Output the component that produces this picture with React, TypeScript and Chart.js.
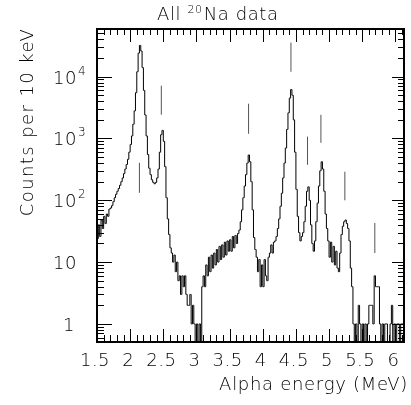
import { useEffect, useRef } from 'react';
import { Chart, registerables } from 'chart.js';

Chart.register(...registerables);

// Histogram: counts per bin, bins of 0.02 MeV starting at 1.50 MeV
const binStart = 1.5;
const binWidth = 0.02;
const counts = [
  24, 40, 26, 48, 35, 55, 42, 60, 55, 72,
  75, 82, 95, 110, 125, 140, 155, 175, 200, 230,
  270, 320, 380, 460, 600, 800, 1100, 1700, 2800, 5500,
  12000, 24000, 32000, 26000, 14000, 6000, 2400, 1100, 550, 330,
  260, 215, 195, 185, 195, 230, 320, 600, 1150, 1350,
  900, 350, 110, 50, 28, 17, 14, 10, 13, 7,
  10, 5, 6, 3, 6, 4, 6, 3, 2, 2,
  3, 1, 2, 1, 0, 1, 0, 1, 0, 4,
  6, 4, 9, 6, 12, 7, 13, 8, 14, 9,
  16, 10, 18, 11, 19, 12, 21, 13, 22, 15,
  23, 15, 26, 17, 27, 20, 29, 33, 45, 70,
  110, 170, 260, 400, 540, 420, 200, 70, 25, 16,
  12, 7, 11, 4, 9, 4, 11, 6, 5, 12,
  14, 19, 14, 21, 22, 26, 35, 50, 80, 130,
  230, 400, 700, 1400, 2600, 4500, 6200, 5000, 2000, 600,
  150, 55, 30, 22, 26, 30, 45, 80, 140, 165,
  100, 40, 20, 15, 22, 45, 90, 170, 300, 420,
  320, 140, 60, 35, 22, 12, 21, 10, 18, 9,
  15, 8, 7, 14, 28, 38, 45, 48, 42, 35,
  22, 8, 4, 1, 0, 1, 0, 2, 1, 0,
  1, 0, 1, 0, 1, 2, 2, 2, 1, 6,
  4, 4, 4, 1, 0, 1, 0, 1, 1, 0,
  0, 1, 2, 0, 1, 0, 1, 1, 0, 1,
  1, 1,
];

// Peak marker lines
const markerEnergy = [2.14, 2.47, 3.786, 4.425, 4.675, 4.877, 5.238, 5.69];
const markerLow = [132, 2420, 1190, 12000, 375, 850, 100, 14];
const markerHigh = [404, 7140, 3650, 35500, 1070, 2410, 290, 43];

// Axes
const xMin = 1.5;
const xMax = 6.13;
const yMin = 0.51;
const yMax = 59000;
const xTickValues = [1.5, 2, 2.5, 3, 3.5, 4, 4.5, 5, 5.5, 6];
const xTickLabels = ['1.5', '2', '2.5', '3', '3.5', '4', '4.5', '5', '5.5', '6'];
const yDecades = [0, 1, 2, 3, 4];

const titleParts = ['All ', '20', 'Na data'];
const xTitle = 'Alpha energy (MeV)';
const yTitle = 'Counts per 10 keV';

const FONT = '"DejaVu Sans", sans-serif';
const W = '200';

const framePlugin = {
  id: 'rootFrame',
  afterDatasetsDraw(chart: any) {
    const ctx: any = chart.ctx;
    const { left, right, top, bottom } = chart.chartArea;
    const xs = chart.scales.x;
    const ys = chart.scales.y;
    ctx.save();
    ctx.strokeStyle = '#000';
    ctx.fillStyle = '#000';

    ctx.lineWidth = 1;
    ctx.beginPath();
    for (let k = 15; k <= 61; k++) {
      const v = k / 10;
      if (v > xMax) break;
      const px = Math.round(xs.getPixelForValue(v)) + 0.5;
      const major = k % 5 === 0;
      const lenB = major ? 13 : 7;
      const lenT = major ? 13 : 6;
      ctx.moveTo(px, bottom);
      ctx.lineTo(px, bottom - lenB);
      ctx.moveTo(px, top);
      ctx.lineTo(px, top + lenT);
    }
    for (let d = -1; d <= 4; d++) {
      for (let m = 1; m <= 9; m++) {
        const v = m * Math.pow(10, d);
        if (v < yMin || v > yMax) continue;
        const py = Math.round(ys.getPixelForValue(v)) + 0.5;
        const major = m === 1;
        const lenL = major ? 15 : 7;
        const lenR = major ? 12 : 6;
        ctx.moveTo(left, py);
        ctx.lineTo(left + lenL, py);
        ctx.moveTo(right, py);
        ctx.lineTo(right - lenR, py);
      }
    }
    ctx.stroke();

    ctx.lineWidth = 2;
    ctx.strokeRect(left, top, right - left, bottom - top);

    // x tick labels
    ctx.font = `${W} 18px ${FONT}`;
    ctx.letterSpacing = '0.5px';
    ctx.textAlign = 'center';
    ctx.textBaseline = 'alphabetic';
    xTickValues.forEach((v, i) => {
      const px = xs.getPixelForValue(v) - 2;
      ctx.fillText(xTickLabels[i], px, 366);
    });

    // y tick labels
    ctx.letterSpacing = '0.5px';
    yDecades.forEach((d) => {
      const py = ys.getPixelForValue(Math.pow(10, d));
      ctx.textAlign = 'right';
      ctx.font = `${W} 18px ${FONT}`;
      if (d === 0) {
        ctx.fillText('1', 75, py + 7);
      } else {
        ctx.fillText('10', 77, py + 7);
        if (d > 1) {
          ctx.textAlign = 'left';
          ctx.font = `${W} 12px ${FONT}`;
          ctx.fillText(String(d), 78, py - 2);
        }
      }
    });

    // title
    ctx.textAlign = 'left';
    ctx.letterSpacing = '0.6px';
    let tx = 157;
    ctx.font = `${W} 18px ${FONT}`;
    ctx.fillText(titleParts[0], tx, 20);
    tx += ctx.measureText(titleParts[0]).width;
    ctx.font = `${W} 11px ${FONT}`;
    ctx.fillText(titleParts[1], tx, 13);
    tx += ctx.measureText(titleParts[1]).width + 1;
    ctx.font = `${W} 18px ${FONT}`;
    ctx.fillText(titleParts[2], tx, 20);

    // x title
    ctx.letterSpacing = '0.7px';
    ctx.textAlign = 'right';
    ctx.fillText(xTitle, 408, 390);

    // y title
    ctx.save();
    ctx.letterSpacing = '1.4px';
    ctx.translate(33, 122);
    ctx.rotate(-Math.PI / 2);
    ctx.textAlign = 'center';
    ctx.fillText(yTitle, 0, 0);
    ctx.restore();

    ctx.restore();
  },
};

export default function App() {
  const ref = useRef<HTMLCanvasElement>(null);
  useEffect(() => {
    const canvas = ref.current;
    if (!canvas) return;
    const hist = [{ x: binStart, y: counts[0] > 0 ? counts[0] : 0.1 }].concat(
      counts.map((c, i) => ({ x: binStart + (i + 0.5) * binWidth, y: c > 0 ? c : 0.1 }))
    );
    const markerSets = markerEnergy.map((e, i) => ({
      data: [
        { x: e, y: markerLow[i] },
        { x: e, y: markerHigh[i] },
      ],
      borderColor: '#555',
      borderWidth: 1,
      pointRadius: 0,
      tension: 0,
      stepped: false,
    }));
    const chart = new Chart(canvas, {
      type: 'line',
      data: {
        datasets: [
          {
            data: hist,
            borderColor: '#000',
            borderWidth: 1,
            pointRadius: 0,
            tension: 0,
            stepped: 'middle',
            fill: false,
          },
          ...markerSets,
        ] as any,
      },
      options: {
        responsive: false,
        animation: false,
        layout: { padding: { left: 97, top: 29, right: 7, bottom: 63 } },
        plugins: {
          legend: { display: false },
          tooltip: { enabled: false },
        },
        scales: {
          x: { type: 'linear', min: xMin, max: xMax, display: false },
          y: { type: 'logarithmic', min: yMin, max: yMax, display: false },
        },
      } as any,
      plugins: [framePlugin],
    });
    return () => chart.destroy();
  }, []);
  return (
    <div style={{ position: 'fixed', left: 0, top: 0, width: 411, height: 405, background: '#fff' }}>
      <canvas ref={ref} width={411} height={405} style={{ width: 411, height: 405 }} />
    </div>
  );
}
